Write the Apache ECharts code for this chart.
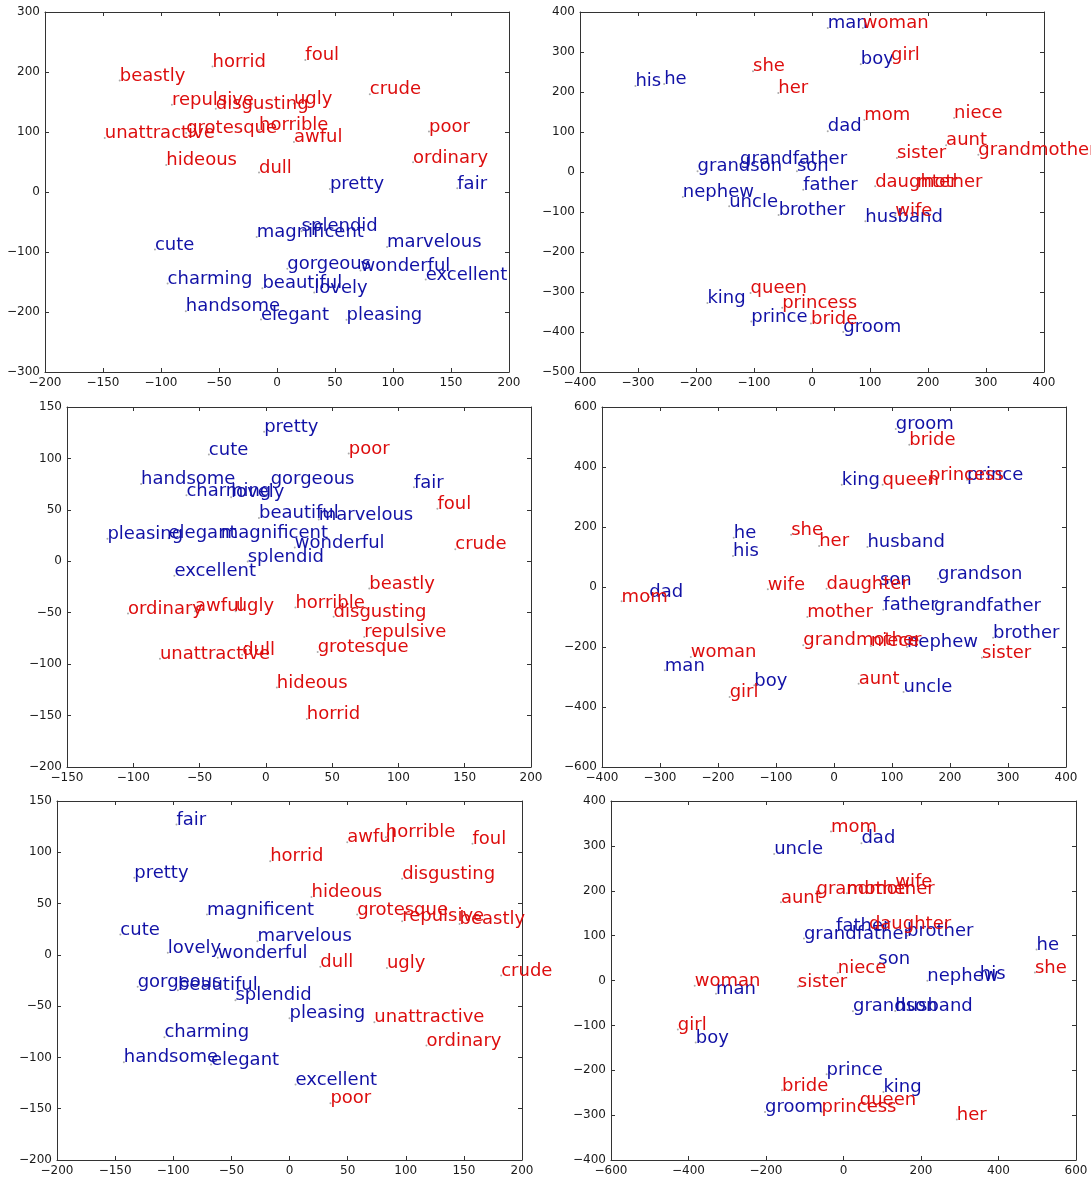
<!DOCTYPE html>
<html>
<head>
<meta charset="utf-8">
<script src="https://cdn.jsdelivr.net/npm/echarts@6/dist/echarts.min.js"></script>
<style>
  html, body { margin: 0; padding: 0; background: #fff; }
  #chart { width: 1091px; height: 1180px; }
</style>
</head>
<body>
<div id="chart"></div>
<script>
  // [word, x, y] for every panel, blue group first, red group second
  const p1Blue = [
    ['pretty', 45.6, 5], ['fair', 155.4, 6.1], ['magnificent', -17.5, -74.9], ['splendid', 21.2, -65.4],
    ['cute', -105.2, -96], ['marvelous', 94.9, -91.5], ['gorgeous', 8.9, -128], ['wonderful', 72, -131],
    ['excellent', 128.2, -145.9], ['charming', -94.3, -152.5], ['beautiful', -12.6, -160.3], ['lovely', 32.1, -167.5],
    ['handsome', -78.6, -198.6], ['elegant', -13.8, -212.4], ['pleasing', 59.9, -213]
  ]
  const p1Red = [
    ['beastly', -135.6, 185.8], ['horrid', -55.6, 209.1], ['foul', 24.4, 220.2], ['crude', 80, 163.1],
    ['repulsive', -90.6, 145.3], ['disgusting', -52.8, 138.7], ['ugly', 14.6, 147.5], ['unattractive', -148.5, 89.9],
    ['grotesque', -78.3, 98.2], ['horrible', -15.5, 103.2], ['awful', 14.6, 83.2], ['poor', 131, 101],
    ['ordinary', 117.3, 49.4], ['hideous', -95.5, 44.9], ['dull', -15.5, 32.7]
  ]
  const p2Blue = [
    ['man', 27.2, 360], ['boy', 84.1, 269.4], ['his', -304.4, 215.2], ['he', -254.8, 220.2],
    ['dad', 27.2, 101.8], ['grandfather', -124, 19.2], ['grandson', -197.3, 1.7], ['son', -26, 1.7],
    ['father', -15.1, -44.2], ['nephew', -222.7, -62.6], ['uncle', -142.8, -85.9], ['brother', -57.5, -107.6],
    ['husband', 92, -123.4], ['king', -180.3, -327.8], ['prince', -104.7, -373.6], ['groom', 53.9, -400.3]
  ]
  const p2Red = [
    ['woman', 87.7, 360], ['girl', 136.2, 279.4], ['she', -101.7, 251.9], ['her', -58.1, 197.7],
    ['mom', 90.2, 130], ['niece', 245, 135], ['aunt', 231.2, 66.7], ['grandmother', 286.8, 43.4],
    ['sister', 146.4, 35], ['daughter', 108.9, -35.9], ['mother', 180.9, -37.5], ['wife', 143.4, -108.4],
    ['queen', -105.9, -302.8], ['princess', -51.4, -339.4], ['bride', -1.8, -378.6]
  ]
  const p3Blue = [
    ['pretty', -1.3, 126], ['cute', -43, 103.8], ['handsome', -94.1, 75.2], ['gorgeous', 3.6, 74.9],
    ['fair', 111.7, 71.9], ['charming', -59.9, 64.1], ['lovely', -26.2, 62.2], ['beautiful', -5.2, 42],
    ['marvelous', 39.9, 40.7], ['pleasing', -119.5, 21.8], ['elegant', -73.4, 22.5], ['magnificent', -34, 23.1],
    ['wonderful', 21.8, 13.3], ['splendid', -13.7, -0.3], ['excellent', -69, -14]
  ]
  const p3Red = [
    ['poor', 62.5, 104.8], ['foul', 129.4, 51.1], ['crude', 142.9, 11.7], ['beastly', 78, -26.4],
    ['ordinary', -104, -50.8], ['awful', -53.4, -48.5], ['ugly', -22.8, -48.5], ['horrible', 22.3, -44.9],
    ['disgusting', 51.1, -54], ['repulsive', 74.2, -73.6], ['unattractive', -79.9, -94.7], ['dull', -17.9, -90.8],
    ['grotesque', 39.1, -88.2], ['hideous', 8.3, -122.7], ['horrid', 30.9, -153.3]
  ]
  const p4Blue = [
    ['groom', 106.5, 526.7], ['king', 13.4, 341.1], ['prince', 229.4, 357.8], ['he', -172.9, 164.4],
    ['his', -174.1, 103.3], ['husband', 57.6, 133.3], ['grandson', 179.3, 27.8], ['son', 79.2, 8.9],
    ['dad', -318.5, -33.3], ['father', 85, -75.6], ['grandfather', 172.3, -77.8], ['brother', 274.2, -168.9],
    ['nephew', 125.8, -200], ['man', -291.7, -277.8], ['boy', -137.4, -327.8], ['uncle', 119.9, -350]
  ]
  const p4Red = [
    ['bride', 129.8, 474.4], ['queen', 83.8, 341.1], ['princess', 163.6, 356.7], ['she', -73.9, 174.4],
    ['her', -25.6, 136.7], ['wife', -114.1, -7.8], ['daughter', -12.8, -5.6], ['mom', -366.2, -47.8],
    ['mother', -46, -100], ['grandmother', -53, -194.4], ['niece', 63.5, -196.7], ['sister', 255, -235.6],
    ['woman', -246.9, -233.3], ['aunt', 42.5, -322.2], ['girl', -179.9, -366.7]
  ]
  const p5Blue = [
    ['fair', -97.2, 127.1], ['pretty', -133.5, 75.1], ['magnificent', -71, 39.3], ['cute', -145.5, 19.8],
    ['marvelous', -27.6, 13.3], ['lovely', -104.7, 2], ['wonderful', -61.7, -2.9], ['gorgeous', -130.6, -31.2],
    ['beautiful', -96, -34.4], ['splendid', -46.5, -44.2], ['pleasing', 0, -61.7], ['charming', -107.6, -80.3],
    ['handsome', -142.5, -104.6], ['elegant', -67.5, -106.9], ['excellent', 5.2, -126.4]
  ]
  const p5Red = [
    ['awful', 49.7, 109.8], ['horrible', 82.9, 114.7], ['foul', 157.4, 108.2], ['horrid', -16.6, 91.3],
    ['disgusting', 96.9, 74.1], ['hideous', 18.9, 56.5], ['grotesque', 58.2, 39.3], ['repulsive', 96.9, 32.8],
    ['beastly', 146.3, 30.2], ['dull', 26.5, -11.7], ['ugly', 83.8, -12.7], ['crude', 182.1, -20.1],
    ['unattractive', 73, -65.6], ['ordinary', 117.8, -88.4], ['poor', 35.2, -144.6]
  ]
  const p6Blue = [
    ['dad', 46.3, 305.8], ['uncle', -178.9, 282], ['father', -19.2, 110.1], ['grandfather', -102.1, 93.8],
    ['brother', 164.1, 99.7], ['he', 498.3, 69.2], ['son', 89.9, 36.5], ['nephew', 216.4, -0.7],
    ['his', 351.7, 3], ['man', -329, -29.8], ['grandson', 24.4, -68.5], ['husband', 133.5, -67.7],
    ['boy', -381.4, -138.4], ['prince', -43.6, -209.1], ['king', 103, -248.5], ['groom', -202.5, -293.2]
  ]
  const p6Red = [
    ['mom', -32.3, 331.8], ['wife', 133.5, 209.8], ['grandmother', -69.8, 194.2], ['mother', 8.7, 194.2],
    ['aunt', -161.5, 174.1], ['daughter', 65.5, 114.6], ['she', 494, 17.9], ['niece', -14.8, 17.1],
    ['woman', -384, -11.9], ['sister', -117.8, -14.1], ['girl', -427.6, -109.4], ['bride', -158.8, -244.8],
    ['queen', 41.9, -277.5], ['princess', -56.7, -293.2], ['her', 292.4, -309.5]
  ]

  // axis ranges: [min, max, interval]
  const xRanges = [[-200, 200, 50], [-400, 400, 100], [-150, 200, 50], [-400, 400, 100], [-200, 200, 50], [-600, 600, 200]]
  const yRanges = [[-300, 300, 100], [-500, 400, 100], [-200, 150, 50], [-600, 600, 200], [-200, 150, 50], [-400, 400, 100]]

  const panels = [[p1Blue, p1Red], [p2Blue, p2Red], [p3Blue, p3Red], [p4Blue, p4Red], [p5Blue, p5Red], [p6Blue, p6Red]]

  const boxes = [
    { left: 45, top: 12, width: 464, height: 360 },
    { left: 580, top: 12, width: 464, height: 360 },
    { left: 67, top: 407, width: 464, height: 360 },
    { left: 602, top: 407, width: 464, height: 360 },
    { left: 57, top: 801, width: 465, height: 359 },
    { left: 611, top: 801, width: 465, height: 359 },
  ]

  const BLUE = '#1212a6'
  const RED = '#dd0e0e'
  const FONT = 'DejaVu Sans'

  const fmt = v => (v < 0 ? '\u2212' + Math.abs(v) : String(v))

  function axis(i, pos, r, showLabel) {
    return {
      type: 'value',
      gridIndex: i,
      position: pos,
      min: r[0],
      max: r[1],
      interval: r[2],
      axisLine: { show: true, onZero: false, lineStyle: { color: '#333', width: 1 } },
      axisTick: { show: true, inside: true, length: 4, lineStyle: { color: '#333' } },
      axisLabel: {
        show: showLabel,
        color: '#1a1a1a',
        fontFamily: FONT,
        fontSize: 12,
        margin: 5,
        showMinLabel: true,
        showMaxLabel: true,
        formatter: fmt,
      },
      splitLine: { show: false },
    }
  }

  function words(i, rows, color) {
    return {
      type: 'scatter',
      xAxisIndex: i * 2,
      yAxisIndex: i * 2,
      data: rows.map(r => ({ name: r[0], value: [r[1], r[2]] })),
      symbolSize: 2,
      itemStyle: { color: '#aaa', opacity: 1 },
      label: {
        show: true,
        position: 'right',
        distance: 0,
        offset: [-1, -4.5],
        formatter: '{b}',
        color: color,
        opacity: 1,
        fontFamily: FONT,
        fontSize: 18,
      },
      emphasis: { disabled: true },
      silent: true,
    }
  }

  const grid = [], xAxis = [], yAxis = [], series = []
  panels.forEach((p, i) => {
    grid.push(boxes[i])
    xAxis.push(axis(i, 'bottom', xRanges[i], true), axis(i, 'top', xRanges[i], false))
    yAxis.push(axis(i, 'left', yRanges[i], true), axis(i, 'right', yRanges[i], false))
    series.push(words(i, p[0], BLUE), words(i, p[1], RED))
  })

  const myChart = echarts.init(document.getElementById('chart'))
  myChart.setOption({
    backgroundColor: '#fff',
    animation: false,
    grid,
    xAxis,
    yAxis,
    series,
  })
</script>
</body>
</html>
